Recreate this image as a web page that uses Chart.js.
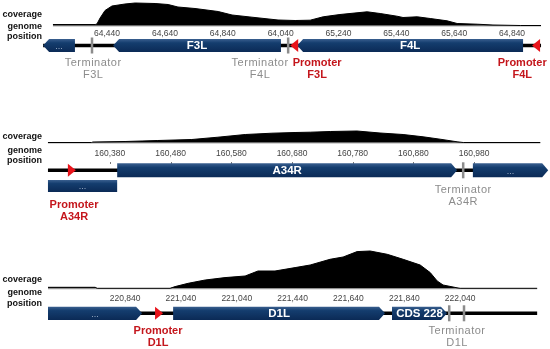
<!DOCTYPE html>
<html>
<head>
<meta charset="utf-8">
<script src="https://cdn.jsdelivr.net/npm/chart.js"></script>
<style>
  html, body { margin: 0; padding: 0; background: #fff; }
  #wrap { position: relative; width: 550px; height: 349px; overflow: hidden; }
  #wrap canvas { position: absolute; left: 0; }
</style>
</head>
<body>
<div id="wrap">
  <canvas id="trackF3L" width="550" height="84" style="top:0px"></canvas>
  <canvas id="trackA34R" width="550" height="110" style="top:118px"></canvas>
  <canvas id="trackD1L" width="550" height="111" style="top:238px"></canvas>
</div>
<script>
/* ============================
   DATA - F3L / F4L locus
============================ */
const f3lCovPos = [64253, 64399, 64405, 64416, 64433, 64457, 64502, 64537, 64606, 64651, 64685, 64744, 64824, 64872, 64941, 65031, 65090, 65142, 65187, 65245, 65304, 65339, 65384, 65442, 65463, 65512, 65557, 65615, 65650, 65719, 65774, 65868, 65940];
const f3lCovVal = [1, 1, 1.5, 7.5, 15, 19.5, 21.5, 22.5, 22, 21, 18.5, 17, 14, 10.5, 8.3, 5.5, 5, 5.3, 8.7, 11, 12.7, 13.7, 12, 9.3, 8, 8.7, 7, 4.7, 2, 1.3, 0.5, 0, 0];
const f3lTicks = [64440, 64640, 64840, 65040, 65240, 65440, 65640, 65840];
const f3lTickLabels = ["64,440", "64,640", "64,840", "64,040", "65,240", "65,440", "65,640", "64,840"];
const f3lBackbone = [64219, 65940];
const f3lGenes = [
  { name: "...", start: 64219, end: 64329, strand: -1, row: 0 },
  { name: "F3L", start: 64461, end: 65041, strand: -1, row: 0 },
  { name: "F4L", start: 65097, end: 65878, strand: -1, row: 0 }
];
const f3lPromoters = [
  { name: "F3L", pos: 65073, strand: -1, labelPos: 65166 },
  { name: "F4L", pos: 65909, strand: -1, labelPos: 65875 }
];
const f3lTerminators = [
  { name: "F3L", marks: [64388], labelPos: 64392 },
  { name: "F4L", marks: [65066], labelPos: 64969 }
];

/* ============================
   DATA - A34R locus
============================ */
const a34rCovPos = [160278, 160350, 160352, 160405, 160433, 160459, 160515, 160558, 160603, 160647, 160685, 160710, 160743, 160787, 160825, 160863, 160896, 160924, 160952, 160962, 161089];
const a34rCovVal = [0, 0, 0.5, 1, 1.5, 2, 3, 5.3, 8, 9.3, 10, 10.3, 11, 11.5, 9.5, 8, 5.7, 3.3, 0.7, 0, 0];
const a34rTicks = [160380, 160480, 160580, 160680, 160780, 160880, 160980];
const a34rTickLabels = ["160,380", "160,480", "160,580", "160,680", "160,780", "160,880", "160,980"];
const a34rBackbone = [160278, 160980];
const a34rGenes = [
  { name: "A34R", start: 160392, end: 160952, strand: 1, row: 0 },
  { name: "...", start: 160978, end: 161102, strand: 1, row: 0 },
  { name: "...", start: 160278, end: 160392, strand: 0, row: 1 }
];
const a34rPromoters = [
  { name: "A34R", pos: 160324, strand: 1, labelPos: 160321 }
];
const a34rTerminators = [
  { name: "A34R", marks: [160962], labelPos: 160962 }
];

/* ============================
   DATA - D1L locus
============================ */
const d1lCovPos = [220564, 220733, 220740, 221001, 221019, 221066, 221127, 221198, 221270, 221316, 221377, 221449, 221503, 221574, 221621, 221671, 221718, 221779, 221836, 221897, 221933, 221958, 221979, 222029, 222040, 222316];
const d1lCovVal = [1, 1, 0, 0, 1.7, 5, 8.3, 10.7, 12.3, 17.3, 17.3, 20.7, 23.3, 29, 31.3, 36.7, 37.3, 34, 29, 23.3, 15.7, 7.3, 3.3, 0.5, 0, 0];
const d1lTicks = [220840, 221040, 221240, 221440, 221640, 221840, 222040];
const d1lTickLabels = ["220,840", "221,040", "221,040", "221,440", "221,640", "221,840", "222,040"];
const d1lBackbone = [220564, 222316];
const d1lGenes = [
  { name: "...", start: 220564, end: 220901, strand: 1, row: 0 },
  { name: "D1L", start: 221012, end: 221771, strand: 1, row: 0 },
  { name: "CDS 228", start: 221796, end: 221993, strand: 1, row: 0 }
];
const d1lPromoters = [
  { name: "D1L", pos: 220976, strand: 1, labelPos: 220958 }
];
const d1lTerminators = [
  { name: "D1L", marks: [222001, 222054], labelPos: 222029 }
];

/* ============================
   PANEL LAYOUT
============================ */
const FONT = "'Liberation Sans', Arial, sans-serif";
const RED = "#c4161c";
const GREY = "#8c8c8c";

const panels = [
  {
    canvas: "trackF3L", height: 84, base: 25.5, xMin: 64070, xMax: 65971, tickPad: 3,
    covPos: f3lCovPos, covVal: f3lCovVal, ticks: f3lTicks, tickLabels: f3lTickLabels,
    backbone: f3lBackbone, genes: f3lGenes, promoters: f3lPromoters, terminators: f3lTerminators,
    rows: [{ y: 20, h: 13 }], legendY: [-10.8, 1.5, 11.5],
    promoterLabelY: 37.5, terminatorLabelY: 37.5, tickMarkY: null
  },
  {
    canvas: "trackA34R", height: 110, base: 24.5, xMin: 160199, xMax: 161105, tickPad: 6,
    covPos: a34rCovPos, covVal: a34rCovVal, ticks: a34rTicks, tickLabels: a34rTickLabels,
    backbone: a34rBackbone, genes: a34rGenes, promoters: a34rPromoters, terminators: a34rTerminators,
    rows: [{ y: 27.8, h: 14 }, { y: 43.5, h: 12 }], legendY: [-5.5, 8.5, 18.5],
    promoterLabelY: 62.5, terminatorLabelY: 47.5, tickMarkY: 19.5
  },
  {
    canvas: "trackD1L", height: 111, base: 50.3, xMin: 220392, xMax: 222362, tickPad: 5,
    covPos: d1lCovPos, covVal: d1lCovVal, ticks: d1lTicks, tickLabels: d1lTickLabels,
    backbone: d1lBackbone, genes: d1lGenes, promoters: d1lPromoters, terminators: d1lTerminators,
    rows: [{ y: 25, h: 13.3 }], legendY: [-8.3, 4.7, 15.7],
    promoterLabelY: 42.7, terminatorLabelY: 42.7, tickMarkY: null
  }
];

/* ============================
   DRAW HELPERS
============================ */
function geneShape(ctx, x1, x2, top, h, strand){
  const head = Math.min(6, x2 - x1);
  const mid = top + h / 2;
  ctx.beginPath();
  if(strand > 0){
    ctx.moveTo(x1, top);
    ctx.lineTo(x2 - head, top);
    ctx.lineTo(x2, mid);
    ctx.lineTo(x2 - head, top + h);
    ctx.lineTo(x1, top + h);
  } else if(strand < 0){
    ctx.moveTo(x2, top);
    ctx.lineTo(x1 + head, top);
    ctx.lineTo(x1, mid);
    ctx.lineTo(x1 + head, top + h);
    ctx.lineTo(x2, top + h);
  } else {
    ctx.rect(x1, top, x2 - x1, h);
  }
  ctx.closePath();
}

// promoter labels are bold red, terminator labels lighter grey with a bit of tracking
function twoLineLabel(ctx, lines, x, y, color, bold){
  ctx.fillStyle = color;
  ctx.font = (bold ? "bold " : "") + "11px " + FONT;
  ctx.letterSpacing = bold ? "0px" : "0.5px";
  ctx.textAlign = "center";
  ctx.textBaseline = "middle";
  ctx.fillText(lines[0], x, y);
  ctx.fillText(lines[1], x, y + 12.3);
  ctx.letterSpacing = "0px";
}

function makeTrackPlugin(p){
  return {
    id: "genomeTrack",
    beforeDatasetsDraw(chart){
      const { ctx, scales: { x, y } } = chart;
      const base = y.getPixelForValue(0);
      ctx.save();
      ctx.strokeStyle = "#a8a8a8";
      ctx.lineWidth = 1;
      ctx.beginPath();
      ctx.moveTo(x.getPixelForValue(p.covPos[0]), base + 0.5);
      ctx.lineTo(x.getPixelForValue(p.covPos[p.covPos.length - 1]), base + 0.5);
      ctx.stroke();
      ctx.restore();
    },
    afterDatasetsDraw(chart){
      const { ctx, scales: { x, y } } = chart;
      const base = y.getPixelForValue(0);
      const row0 = base + p.rows[0].y;

      ctx.save();

      // left legend
      ctx.fillStyle = "#111";
      ctx.font = "bold 9px " + FONT;
      ctx.textAlign = "right";
      ctx.textBaseline = "middle";
      ["coverage", "genome", "position"].forEach((t, i) => {
        ctx.fillText(t, 42, base + p.legendY[i]);
      });

      // small tick marks under labels
      if(p.tickMarkY !== null){
        ctx.fillStyle = "#777";
        p.ticks.forEach(v => {
          ctx.fillRect(Math.round(x.getPixelForValue(v)), base + p.tickMarkY, 1, 2);
        });
      }

      // backbone
      ctx.strokeStyle = "#000";
      ctx.lineWidth = 3.5;
      ctx.beginPath();
      ctx.moveTo(x.getPixelForValue(p.backbone[0]), row0);
      ctx.lineTo(x.getPixelForValue(p.backbone[1]), row0);
      ctx.stroke();

      // terminator marks
      ctx.fillStyle = GREY;
      p.terminators.forEach(t => {
        t.marks.forEach(m => {
          const px = x.getPixelForValue(m);
          ctx.fillRect(px - 1.25, row0 - 8, 2.5, 16);
        });
      });

      // genes
      p.genes.forEach(g => {
        const r = p.rows[g.row];
        const top = base + r.y - r.h / 2;
        const x1 = x.getPixelForValue(g.start);
        const x2 = x.getPixelForValue(g.end);
        const grad = ctx.createLinearGradient(0, top, 0, top + r.h);
        grad.addColorStop(0, "#3a5f8f");
        grad.addColorStop(0.3, "#143d6e");
        grad.addColorStop(1, "#0b2a56");
        ctx.fillStyle = grad;
        geneShape(ctx, x1, x2, top, r.h, g.strand);
        ctx.fill();

        let cx = (x1 + x2) / 2;
        ctx.textAlign = "center";
        ctx.textBaseline = "middle";
        if(g.name === "..."){
          ctx.fillStyle = "#9fb1c9";
          ctx.font = "9px " + FONT;
          ctx.fillText("...", cx, top + r.h / 2 + 1);
        } else {
          ctx.fillStyle = "#fff";
          ctx.font = "bold 11.5px " + FONT;
          ctx.fillText(g.name, cx, top + r.h / 2 + 0.5);
        }
      });

      // promoters
      ctx.fillStyle = "#e8141b";
      p.promoters.forEach(pr => {
        const tip = x.getPixelForValue(pr.pos);
        const back = tip - pr.strand * 8;
        ctx.beginPath();
        ctx.moveTo(tip, row0);
        ctx.lineTo(back, row0 - 6.5);
        ctx.lineTo(back, row0 + 6.5);
        ctx.closePath();
        ctx.fill();
      });

      // annotation labels
      p.terminators.forEach(t => {
        twoLineLabel(ctx, ["Terminator", t.name], x.getPixelForValue(t.labelPos), base + p.terminatorLabelY, GREY, false);
      });
      p.promoters.forEach(pr => {
        twoLineLabel(ctx, ["Promoter", pr.name], x.getPixelForValue(pr.labelPos), base + p.promoterLabelY, RED, true);
      });

      ctx.restore();
    }
  };
}

/* ============================
   BUILD CHARTS
============================ */
function renderPanel(p){
  const canvas = document.getElementById(p.canvas);
  if(!canvas) return;

  return new Chart(canvas, {
    type: "line",
    data: {
      datasets: [{
        label: "coverage",
        data: p.covPos.map((pos, i) => ({ x: pos, y: p.covVal[i] })),
        borderColor: "#000",
        backgroundColor: "#000",
        borderWidth: 1,
        pointRadius: 0,
        tension: 0,
        fill: "origin"
      }]
    },
    options: {
      responsive: false,
      animation: false,
      devicePixelRatio: 1,
      events: [],
      layout: { padding: 0 },
      scales: {
        x: {
          type: "linear",
          min: p.xMin,
          max: p.xMax,
          position: { y: 0 },
          grid: { display: false, drawTicks: false },
          border: { display: false },
          afterBuildTicks: axis => {
            axis.ticks = p.ticks.map(v => ({ value: v }));
          },
          ticks: {
            autoSkip: false,
            maxRotation: 0,
            padding: p.tickPad,
            color: "#444",
            font: { family: FONT, size: 8.5 },
            callback: (v, i) => p.tickLabels[i]
          }
        },
        y: {
          display: false,
          min: -(p.height - p.base),
          max: p.base
        }
      },
      plugins: {
        legend: { display: false },
        tooltip: { enabled: false }
      }
    },
    plugins: [makeTrackPlugin(p)]
  });
}

panels.forEach(renderPanel);
</script>
</body>
</html>
